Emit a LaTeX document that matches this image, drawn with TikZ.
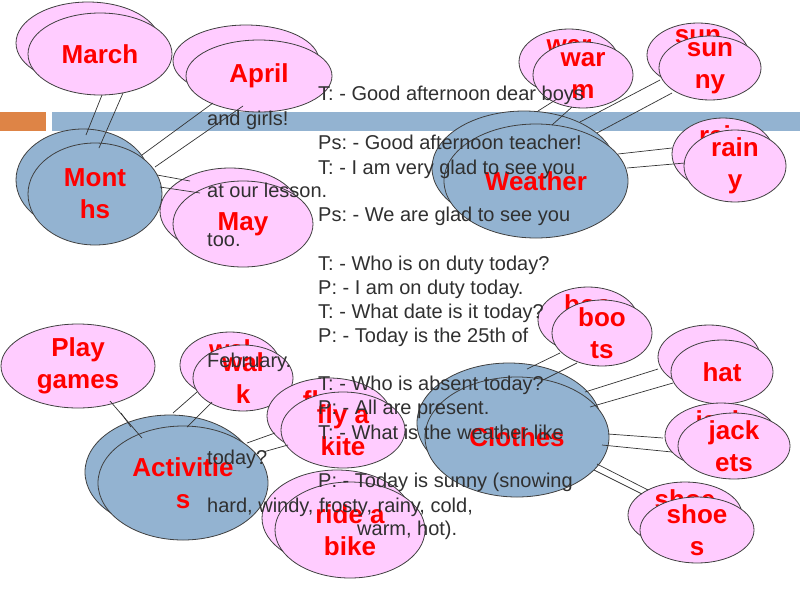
\documentclass[tikz,border=0pt]{standalone}
\usepackage{fontspec}
\setmainfont{Liberation Sans}
\usetikzlibrary{shapes.geometric}
\definecolor{pinkf}{HTML}{FFCCFF}
\definecolor{bluef}{HTML}{93B3D1}
\definecolor{orangef}{HTML}{DE8446}
\definecolor{redt}{HTML}{FF0000}
\definecolor{bodyt}{HTML}{303030}
\frenchspacing
\begin{document}
\begin{tikzpicture}[x=1pt,y=-1pt,
  ell/.style={ellipse,draw=black!75,line width=0.8pt,inner sep=0pt},
  pk/.style={ell,fill=pinkf},
  bl/.style={ell,fill=bluef},
  et/.style={text=redt,font=\fontsize{26}{32}\selectfont\bfseries,align=center,inner sep=0pt},
  bt/.style={text=bodyt,font=\fontsize{20}{24}\selectfont,anchor=base west,inner sep=0pt},
  cn/.style={draw=black!80,line width=0.7pt}]
\useasboundingbox[fill=white] (0,0) rectangle (800,600);
% header bars
\fill[orangef] (0,112) rectangle (46,131);
\fill[bluef] (52,112) rectangle (800,131);

% ---------- Months group ----------
\node[pk,minimum width=144pt,minimum height=82pt] (marchB) at (88,43) {};
\node[et] (marchBt) at (marchB) {March};
\node[pk,minimum width=144pt,minimum height=82pt] (marchF) at (100,54) {};
\node[et] (marchFt) at (marchF) {March};
\node[pk,minimum width=146pt,minimum height=72pt] (aprilB) at (246,61) {};
\node[et] (aprilBt) at (aprilB) {April};
\node[pk,minimum width=146pt,minimum height=72pt] (aprilF) at (259,76) {};
\node[et] (aprilFt) at (aprilF) {April};
\node[pk,minimum width=140pt,minimum height=86pt] (mayB) at (230,211) {};
\node[et] (mayBt) at (mayB) {May};
\node[pk,minimum width=140pt,minimum height=86pt] (mayF) at (243,224) {};
\node[et] (mayFt) at (mayF) {May};
\node[bl,minimum width=134pt,minimum height=102pt] (monB) at (83,180) {};
\node[et] (monBt) at (monB) {Mont\\hs};
\node[bl,minimum width=134pt,minimum height=102pt] (monF) at (95,194) {};
\node[et] (monFt) at (monF) {Mont\\hs};

% ---------- Weather group ----------
\node[pk,minimum width=100pt,minimum height=66pt] (warmB) at (569,62) {};
\node[et] (warmBt) at (warmB) {war\\m};
\node[pk,minimum width=100pt,minimum height=66pt] (warmF) at (583,75) {};
\node[et] (warmFt) at (warmF) {war\\m};
\node[pk,minimum width=102pt,minimum height=64pt] (sunB) at (698,55) {};
\node[et] (sunBt) at (sunB) {sun\\ny};
\node[pk,minimum width=102pt,minimum height=64pt] (sunF) at (710,68) {};
\node[et] (sunFt) at (sunF) {sun\\ny};
\node[pk,minimum width=102pt,minimum height=72pt] (rainB) at (723,154) {};
\node[et] (rainBt) at (rainB) {rain\\y};
\node[pk,minimum width=102pt,minimum height=72pt] (rainF) at (735,166) {};
\node[et] (rainFt) at (rainF) {rain\\y};
\node[bl,minimum width=184pt,minimum height=114pt] (weaB) at (524,168) {};
\node[et] (weaBt) at (weaB) {Weather};
\node[bl,minimum width=184pt,minimum height=114pt] (weaF) at (536,181) {};
\node[et] (weaFt) at (weaF) {Weather};

% ---------- Activities group ----------
\node[pk,minimum width=154pt,minimum height=84pt] (play) at (78,366) {};
\node[et] (playt) at (play) {Play\\games};
\node[pk,minimum width=100pt,minimum height=66pt] (walkB) at (230,365) {};
\node[et] (walkBt) at (walkB) {wal\\k};
\node[pk,minimum width=100pt,minimum height=66pt] (walkF) at (243,378) {};
\node[et] (walkFt) at (walkF) {wal\\k};
\node[pk,minimum width=124pt,minimum height=76pt] (kiteB) at (329,416) {};
\node[et] (kiteBt) at (kiteB) {fly a\\kite};
\node[pk,minimum width=124pt,minimum height=76pt] (kiteF) at (343,430) {};
\node[et] (kiteFt) at (kiteF) {fly a\\kite};
\node[pk,minimum width=150pt,minimum height=96pt] (bikeB) at (337,518) {};
\node[et] (bikeBt) at (bikeB) {ride a\\bike};
\node[pk,minimum width=150pt,minimum height=96pt] (bikeF) at (350,530) {};
\node[et] (bikeFt) at (bikeF) {ride a\\bike};
\node[bl,minimum width=170pt,minimum height=114pt] (actB) at (170,472) {};
\node[et] (actBt) at (actB) {Activitie\\s};
\node[bl,minimum width=170pt,minimum height=114pt] (actF) at (183,483) {};
\node[et] (actFt) at (actF) {Activitie\\s};

% ---------- Clothes group ----------
\node[pk,minimum width=100pt,minimum height=66pt] (bootB) at (588,320) {};
\node[et] (bootBt) at (bootB) {boo\\ts};
\node[pk,minimum width=100pt,minimum height=66pt] (bootF) at (602,333) {};
\node[et] (bootFt) at (bootF) {boo\\ts};
\node[pk,minimum width=102pt,minimum height=64pt] (hatB) at (709,357) {};
\node[et] (hatBt) at (hatB) {hat};
\node[pk,minimum width=102pt,minimum height=64pt] (hatF) at (722,372) {};
\node[et] (hatFt) at (hatF) {hat};
\node[pk,minimum width=112pt,minimum height=66pt] (jackB) at (721,436) {};
\node[et] (jackBt) at (jackB) {jack\\ets};
\node[pk,minimum width=112pt,minimum height=66pt] (jackF) at (734,446) {};
\node[et] (jackFt) at (jackF) {jack\\ets};
\node[pk,minimum width=114pt,minimum height=66pt] (shoeB) at (685,515) {};
\node[et] (shoeBt) at (shoeB) {shoe\\s};
\node[pk,minimum width=114pt,minimum height=66pt] (shoeF) at (697,530) {};
\node[et] (shoeFt) at (shoeF) {shoe\\s};
\node[bl,minimum width=184pt,minimum height=120pt] (cloB) at (509,423) {};
\node[et] (cloBt) at (cloB) {Clothes};
\node[bl,minimum width=184pt,minimum height=120pt] (cloF) at (517,437) {};
\node[et] (cloFt) at (cloF) {Clothes};

% ---------- connector end points ----------
\foreach \n/\x/\y in {
  ma1/86/135, mb1/102/95, ma2/99/148, mb2/123/93,
  ma3/142/155, mb3/213/103, ma4/155/167, mb4/243/106,
  ma5/157/175, mb5/190/181, ma6/160/187, mb6/200/193,
  wa1/538/111, wb1/557/99, wa2/552/125, wb2/572/107,
  wa3/580/122, wb3/660/80, wa4/597/133, wb4/672/93,
  wa5/618/154, wb5/672/148, wa6/627/168, wb6/685/163,
  aa1/142/438, ab1/110/401, aa2/131/427, ab2/121/413,
  aa3/173/413, ab3/197/392, aa4/187/427, ab4/212/402,
  aa5/247/443, ab5/275/433, aa6/263/452, ab6/288/445,
  ca1/527/369, cb1/560/353, ca2/543/380, cb2/577/363,
  ca3/585/392, cb3/658/369, ca4/590/407, cb4/673/383,
  ca5/608/434, cb5/663/438, ca6/602/445, cb6/672/452,
  ca7/597/464, cb7/648/490, ca8/594/470, cb8/642/494}
  \coordinate (\n) at (\x,\y);
\foreach \p/\q in {m/1,m/2,m/3,m/4,m/5,m/6,w/1,w/2,w/3,w/4,w/5,w/6,a/1,a/2,a/3,a/4,a/5,a/6,c/1,c/2,c/3,c/4,c/5,c/6,c/7,c/8}{
  \draw[cn] (\p a\q) -- (\p b\q);
}

% ---------- body text ----------
\node[bt] (l1) at (318,100) {T: - Good afternoon dear boys};
\node[bt] (l2) at (207,125) {and girls!};
\node[bt] (l3) at (318,149) {Ps: - Good afternoon teacher!};
\node[bt] (l4) at (318,174) {T: - I am very glad to see you};
\node[bt] (l5) at (207,197) {at our lesson.};
\node[bt] (l6) at (318,221) {Ps: - We are glad to see you};
\node[bt] (l7) at (207,246) {too.};
\node[bt] (l8) at (318,270) {T: - Who is on duty today?};
\node[bt] (l9) at (318,294) {P: - I am on duty today.};
\node[bt] (l10) at (318,318) {T: - What date is it today?};
\node[bt] (l11) at (318,342) {P: - Today is the 25th of};
\node[bt] (l12) at (207,367) {February.};
\node[bt] (l13) at (318,390) {T: - Who is absent today?};
\node[bt] (l14) at (318,414) {P: - All are present.};
\node[bt] (l15) at (318,439) {T: - What is the weather like};
\node[bt] (l16) at (207,464) {today?};
\node[bt] (l17) at (318,487) {P: - Today is sunny (snowing};
\node[bt] (l18) at (207,512) {hard, windy, frosty, rainy, cold,};
\node[bt] (l19) at (357,535) {warm, hot).};
\end{tikzpicture}
\end{document}
